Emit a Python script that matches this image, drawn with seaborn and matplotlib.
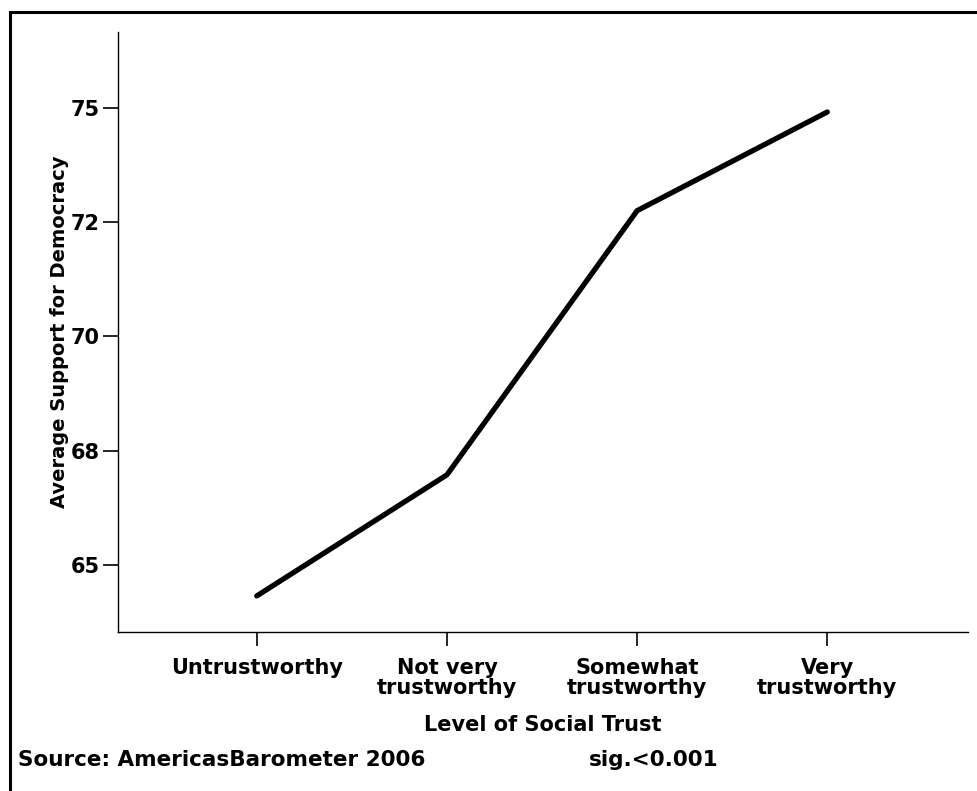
import numpy as np
import pandas as pd
import matplotlib
matplotlib.use("Agg")
import matplotlib.pyplot as plt
import seaborn as sns
from matplotlib.patches import Rectangle

# data
categories = ["Untrustworthy", "Not very\ntrustworthy", "Somewhat\ntrustworthy", "Very\ntrustworthy"]
support = [64.32, 66.97, 72.75, 74.91]
y_ticks = [65, 67.5, 70, 72.5, 75]

df = pd.DataFrame({"x": np.arange(len(categories)), "support": support})

sns.set_style("white")
plt.rcParams["font.family"] = ["DejaVu Sans"]
plt.rcParams["font.weight"] = "bold"
plt.rcParams["text.color"] = "black"
plt.rcParams["axes.labelcolor"] = "black"
plt.rcParams["xtick.color"] = "black"
plt.rcParams["ytick.color"] = "black"

fig = plt.figure(figsize=(9.77, 7.91), dpi=100)
ax = fig.add_axes([118 / 977, 1 - 632 / 791, 850 / 977, 600 / 791])

sns.lineplot(data=df, x="x", y="support", ax=ax, color="black", linewidth=3.8)

ax.set_xlim(-0.73, 3.74)
ax.set_ylim(63.53, 76.66)
ax.set_xticks(df["x"])
ax.set_xticklabels(categories, fontsize=15, fontweight="bold", linespacing=0.95)
ax.set_yticks(y_ticks)
ax.set_yticklabels([f"{v:.0f}" for v in y_ticks], fontsize=15, fontweight="bold")
ax.tick_params(axis="y", length=11, width=1.2, direction="out", pad=2, left=True)
ax.tick_params(axis="x", length=10, width=1.2, direction="out", pad=9, bottom=True)

sns.despine(ax=ax)
for s in ["left", "bottom"]:
    ax.spines[s].set_linewidth(1.0)
    ax.spines[s].set_color("black")

ax.set_xlabel("Level of Social Trust", fontsize=15, fontweight="bold")
ax.xaxis.set_label_coords(0.5, -(725 - 632) / 600)
ax.xaxis.label.set_va("center")
ax.set_ylabel("Average Support for Democracy", fontsize=14, fontweight="bold")
ax.yaxis.set_label_coords(-(118 - 60) / 850, 0.5)
ax.yaxis.label.set_va("center")

fig.text(18 / 977, 1 - 760 / 791, "Source: AmericasBarometer 2006", fontsize=15.5,
         fontweight="bold", va="center", ha="left")
fig.text(589 / 977, 1 - 760 / 791, "sig.<0.001", fontsize=15.5,
         fontweight="bold", va="center", ha="left")

# outer frame (only top and left edges visible)
fig.patches.append(Rectangle((10 / 977, -0.1), 1.2, 1 - 12 / 791 + 0.1,
                             transform=fig.transFigure, fill=False,
                             edgecolor="black", linewidth=2.2))

fig.savefig("out.png", dpi=100)
